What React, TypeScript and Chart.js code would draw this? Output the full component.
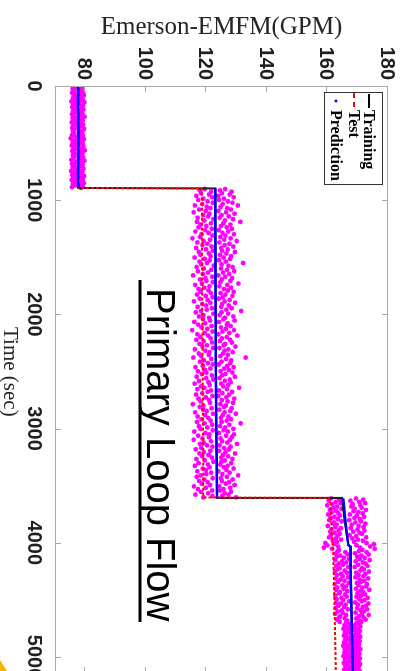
import React, { useEffect, useRef } from "react";
import { Chart, registerables } from "chart.js";
Chart.register(...registerables);

// ---- axis ticks & labels ----
const timeTicks = [0, 1000, 2000, 3000, 4000, 5000];
const flowTicks = [80, 100, 120, 140, 160, 180];
const timeMin = 0;
const timeMax = 5140;
const flowMin = 70;
const flowMax = 180;
const xTitle = "Time (sec)";
const yTitle = "Emerson-EMFM(GPM)";
const annotationText = "Primary Loop Flow";
const legendLabels = ["Training", "Test", "Prediction"];

// ---- Training (black solid) ----
const trainTime = [0, 893, 897, 1500, 2200, 2900, 3603, 3607, 3800, 4020, 4035, 4300, 4700, 5140];
const trainFlow = [77.7, 77.7, 123.0, 123.0, 123.1, 123.3, 123.5, 164.8, 165.6, 166.9, 167.6, 167.8, 168.0, 168.4];

// ---- Test (red dashed) ----
const testTime = [0, 893, 897, 1500, 2200, 2900, 3603, 3607, 3626, 3889, 4064, 4501, 5052, 5140];
const testFlow = [77.6, 77.6, 118.5, 118.6, 118.7, 118.9, 119.0, 160.5, 160.9, 161.4, 161.9, 162.3, 162.7, 162.8];

// ---- Prediction (blue) ; null = gap ----
const predTime = [0, 150, 300, 450, 600, 750, 893, 895, 897, 1200, 1500, 1800, 2100, 2400, 2700, 3000, 3300, 3603, 3605, 3611, 3772, 3915, 4020, 4035, 4265, 4702, 5052, 5140];
const predFlow = [77.7, 77.6, 77.7, 77.8, 77.7, 77.6, 77.7, null, 122.9, 122.9, 123.0, 123.0, 123.1, 123.1, 123.2, 123.3, 123.4, 123.5, null, 165.2, 165.8, 166.4, 166.9, 167.7, 167.6, 168.0, 168.3, 168.4];

// ---- Prediction samples (magenta scatter), regular sampling per segment ----
const seg1Start = 3;
const seg1Step = 7;
const seg1Flow = [
  76.1, 79.0, 77.2, 75.8, 78.6, 77.9, 76.4, 79.3, 75.6, 78.1,
  76.9, 79.5, 76.2, 78.8, 77.4, 75.9, 79.1, 76.6, 78.3, 75.4,
  79.7, 76.8, 78.0, 76.0, 79.2, 77.0, 75.7, 78.9, 76.3, 79.4,
  77.6, 75.9, 78.5, 76.7, 79.0, 75.6, 78.2, 76.1, 79.8, 77.3,
  75.8, 78.7, 76.5, 79.1, 77.1, 75.5, 78.4, 76.9, 79.3, 76.0,
  78.6, 77.5, 75.7, 79.6, 76.4, 78.1, 75.9, 79.0, 77.8, 76.2,
  78.9, 75.6, 79.2, 76.8, 78.3, 75.2, 79.5, 77.0, 76.3, 78.7,
  75.8, 79.1, 76.6, 78.0, 75.5, 79.4, 77.2, 76.0, 78.8, 76.7,
  79.9, 75.7, 78.4, 76.2, 79.0, 77.4, 75.9, 78.6, 76.5, 79.3,
  76.1, 78.2, 75.4, 79.7, 77.1, 76.8, 78.5, 75.6, 79.1, 76.3,
  78.9, 77.6, 75.8, 79.4, 76.9, 78.1, 75.3, 79.0, 76.4, 78.7,
  77.3, 75.7, 79.6, 76.0, 78.3, 76.6, 79.2, 75.5, 78.8, 77.0,
  76.2, 79.5, 75.9, 78.4, 76.7, 79.1, 75.6, 78.6,
];

const seg2Start = 902;
const seg2Step = 12;
const seg2Low = [
  119.4, 117.8, 121.6, 118.2, 120.9, 116.7, 121.9, 119.0, 117.3, 120.4,
  122.1, 118.6, 116.2, 120.1, 121.3, 117.6, 119.8, 115.8, 121.0, 118.9,
  120.6, 117.1, 122.3, 119.3, 116.9, 121.5, 118.1, 120.0, 117.4, 121.8,
  119.6, 116.4, 120.7, 118.4, 122.0, 117.9, 115.4, 121.2, 119.1, 117.0,
  120.3, 118.7, 121.7, 116.6, 119.9, 122.2, 117.5, 120.8, 118.0, 121.4,
  116.1, 119.5, 121.1, 117.7, 120.2, 118.3, 122.4, 116.8, 119.2, 121.6,
  117.2, 120.5, 118.8, 115.6, 121.9, 119.7, 117.9, 120.0, 122.1, 118.5,
  116.3, 121.0, 119.3, 117.4, 120.7, 118.1, 121.5, 116.9, 119.8, 122.0,
  117.8, 120.4, 115.9, 121.3, 118.6, 119.9, 117.1, 121.8, 120.1, 118.2,
  116.5, 122.3, 119.0, 117.6, 120.9, 118.9, 121.2, 116.0, 119.6, 117.3,
  121.7, 118.4, 120.3, 115.3, 122.0, 119.4, 117.0, 120.6, 118.0, 121.4,
  116.7, 119.1, 121.9, 117.7, 120.2, 118.7, 122.2, 116.2, 119.7, 121.0,
  117.5, 120.8, 118.3, 115.7, 121.6, 119.2, 117.9, 120.5, 122.1, 118.8,
  116.4, 121.3, 119.5, 117.2, 120.0, 118.5, 121.8, 116.8, 119.9, 122.3,
  117.6, 120.7, 116.1, 121.1, 118.2, 119.3, 117.0, 121.5, 120.4, 118.6,
  116.6, 122.0, 119.8, 117.4, 120.9, 118.1, 121.2, 115.5, 119.0, 117.8,
  121.7, 118.9, 120.1, 116.3, 122.2, 119.6, 117.1, 120.6, 118.4, 121.4,
  116.9, 119.4, 121.9, 117.5, 120.3, 118.0, 122.1, 116.0, 119.7, 121.0,
  117.3, 120.8, 118.7, 115.8, 121.5, 119.1, 117.9, 120.2, 122.0, 118.3,
  116.5, 121.3, 119.2, 117.7, 120.7, 118.6, 121.8, 116.7, 119.5, 122.3,
  117.4, 120.5, 116.2, 121.1, 118.8, 119.9, 117.0, 121.6, 120.0, 118.1,
  116.8, 122.1, 119.3, 117.6, 120.4, 118.5, 121.2, 115.9, 119.8, 117.2,
  121.9, 118.2, 120.6, 116.4, 122.0, 119.0,
];
const seg2High = [
  126.2, 124.5, 128.3, 125.1, 127.7, 123.9, 129.0, 125.8, 124.2, 127.1,
  128.6, 125.4, 130.4, 124.7, 126.9, 128.1, 124.0, 126.5, 129.3, 125.0,
  127.4, 124.4, 128.8, 126.1, 131.2, 125.6, 127.9, 124.8, 126.7, 128.4,
  124.1, 127.2, 125.3, 129.1, 126.3, 124.6, 128.0, 125.9, 130.0, 124.3,
  127.6, 126.0, 128.9, 124.9, 127.0, 125.2, 129.4, 126.6, 124.5, 128.2,
  125.7, 127.8, 124.2, 126.4, 132.1, 125.0, 127.3, 128.7, 124.8, 126.8,
  129.2, 125.5, 127.5, 124.0, 126.2, 128.5, 125.1, 127.9, 124.6, 130.6,
  126.9, 124.3, 128.1, 125.8, 127.1, 129.0, 124.7, 126.3, 128.6, 125.4,
  124.1, 127.7, 126.0, 129.5, 125.2, 127.4, 124.9, 128.3, 126.6, 131.5,
  125.0, 127.2, 124.4, 128.9, 126.1, 125.6, 129.3, 124.2, 127.0, 126.8,
  128.0, 124.8, 126.4, 129.1, 125.3, 127.6, 124.0, 130.2, 126.7, 125.1,
  127.8, 124.5, 128.4, 126.2, 125.7, 129.6, 124.3, 127.3, 126.0, 128.7,
  125.5, 127.1, 124.6, 133.0, 126.5, 128.2, 125.0, 127.9, 124.1, 126.9,
  129.0, 125.9, 127.4, 124.7, 128.6, 126.3, 125.2, 129.4, 124.4, 127.7,
  126.1, 128.0, 124.9, 127.2, 125.6, 130.8, 126.8, 124.2, 128.5, 125.3,
  127.5, 124.0, 126.6, 129.2, 125.1, 127.0, 128.8, 124.6, 126.4, 125.8,
  128.3, 124.3, 127.9, 126.0, 129.7, 125.4, 127.3, 124.8, 128.1, 126.7,
  125.0, 131.3, 127.6, 124.5, 126.2, 128.9, 125.7, 127.1, 124.1, 129.1,
  126.5, 128.4, 124.7, 127.8, 125.2, 126.9, 130.1, 124.4, 128.0, 125.9,
  127.4, 124.2, 126.3, 129.5, 125.5, 127.2, 124.9, 128.6, 126.1, 125.0,
  128.2, 124.6, 127.0, 125.8, 129.0, 126.6, 124.0, 127.7, 125.3, 130.5,
  126.8, 124.8, 128.7, 125.1, 127.5, 126.4, 129.3, 124.3, 127.9, 125.6,
  124.5, 128.1, 126.0, 127.3, 125.2, 129.8,
];

const seg3Start = 3612;
const seg3Step = 10;
const seg3Low = [
  161.2, 163.9, 160.4, 162.7, 164.3, 161.6, 159.9, 163.2, 162.0, 164.6,
  160.8, 162.9, 161.4, 163.6, 160.2, 164.1, 162.3, 161.0, 163.4, 160.6,
  164.7, 162.1, 161.8, 163.0, 160.1, 162.6, 164.4, 161.3, 163.7, 160.9,
  162.4, 164.0, 161.1, 163.3, 160.5, 162.8, 164.5, 161.7, 163.1,
  159.3, 162.2, 160.0, 163.5, 158.8, 161.5, 163.8,
  163.4, 165.9, 162.8, 166.6, 164.2, 163.0, 165.4, 167.1, 162.6, 164.8,
  166.2, 163.7, 165.1, 162.9, 166.9, 164.0, 163.3, 165.7, 162.5, 166.4,
  164.5, 163.1, 165.0, 166.8, 162.7, 164.3, 165.6, 163.5, 167.0, 162.4,
  164.9, 166.1, 163.2, 165.3, 162.8, 166.5, 164.1, 163.8, 165.8, 162.6,
  166.3, 164.6, 163.0, 165.2, 167.2, 162.9, 164.4, 166.0, 163.6, 165.5,
  162.7, 166.7, 164.7, 163.4, 165.0, 162.5, 166.2, 164.2, 163.9, 165.7,
  163.1, 166.6, 164.0,
  166.1, 167.4, 165.6, 167.9, 166.5, 165.3, 167.1, 166.8, 165.8, 167.6,
  166.2, 165.4, 167.8, 166.6, 165.9, 167.3, 166.0, 165.5, 167.7, 166.4,
  165.2, 167.0, 166.9, 165.7, 167.5, 166.3, 165.6, 167.9, 166.7, 165.3,
  167.2, 166.1, 165.8, 167.6, 166.5, 165.4, 167.0, 166.2, 165.9, 167.8,
  166.6, 165.5, 167.3, 166.0,
];
const seg3High = [
  169.4, 171.8, 167.6, 170.5, 172.4, 168.3, 170.9, 167.9, 171.3, 169.0,
  172.7, 168.6, 170.2, 171.6, 167.4, 169.7, 172.1, 168.9, 170.7, 167.2,
  171.0, 169.2, 172.5, 168.0, 170.3, 171.9, 167.7, 169.9, 172.2, 168.5,
  170.6, 171.4, 167.3, 169.5, 172.8, 168.2, 170.0, 171.7, 168.8,
  172.9, 175.3, 169.6, 174.1, 170.8, 175.6, 171.5,
  170.4, 172.9, 169.1, 173.6, 171.2, 169.8, 172.3, 170.7, 173.9, 169.3,
  171.7, 172.6, 170.1, 173.2, 169.0, 171.4, 172.0, 170.9, 173.7, 169.5,
  172.5, 170.3, 171.9, 169.2, 173.4, 170.6, 172.1, 171.0, 169.7, 173.0,
  170.2, 172.8, 171.5, 169.4, 173.8, 170.8, 171.8, 169.9, 172.4, 171.1,
  169.6, 173.3, 170.5, 172.2, 171.3, 169.1, 173.5, 170.0, 172.7, 171.6,
  169.8, 173.1, 170.9, 172.0, 169.3, 171.4, 173.6, 170.4, 171.9, 169.5,
  172.6, 170.7, 171.2,
  169.6, 170.5, 168.9, 170.9, 169.2, 170.1, 168.8, 170.7, 169.9, 169.4,
  170.3, 168.7, 170.8, 169.7, 170.0, 169.1, 170.6, 169.5, 168.9, 170.4,
  169.8, 170.2, 169.0, 170.9, 169.3, 170.1, 168.8, 170.5, 169.6, 170.0,
  169.2, 170.7, 169.9, 168.7, 170.3, 169.4, 170.8, 169.1, 170.4, 169.7,
  170.0, 168.9, 170.6, 169.5,
];

// ---- layout (unrotated canvas; the whole figure is turned 90° clockwise) ----
const CW = 690;
const CH = 409;

const pairs = (t: number[], v: (number | null)[]) => t.map((x, i) => ({ x, y: v[i] }));
const sampled = (start: number, step: number, v: number[]) => v.map((y, i) => ({ x: start + i * step, y }));

const TICK_FONT = 'bold 20px "Liberation Sans", Arial, sans-serif';
const SERIF = '"Liberation Serif", "Times New Roman", serif';

const framePlugin = {
  id: "frame",
  afterDraw(chart: any) {
    const { ctx, chartArea: a, scales } = chart;
    const xs = scales.x;
    const ys = scales.y;
    ctx.save();
    // box
    ctx.strokeStyle = "#a8a8a8";
    ctx.lineWidth = 1;
    ctx.strokeRect(a.left + 0.5, a.top + 0.5, a.right - a.left - 1, a.bottom - a.top - 1);
    // inward ticks
    ctx.beginPath();
    timeTicks.forEach((t) => {
      const px = Math.round(xs.getPixelForValue(t)) + 0.5;
      ctx.moveTo(px, a.bottom);
      ctx.lineTo(px, a.bottom - 6);
      ctx.moveTo(px, a.top);
      ctx.lineTo(px, a.top + 6);
    });
    flowTicks.forEach((f) => {
      const py = Math.round(ys.getPixelForValue(f)) + 0.5;
      ctx.moveTo(a.left, py);
      ctx.lineTo(a.left + 6, py);
      ctx.moveTo(a.right, py);
      ctx.lineTo(a.right - 6, py);
    });
    ctx.stroke();

    // tick labels
    ctx.fillStyle = "#1f1f1f";
    ctx.font = TICK_FONT;
    ctx.textBaseline = "alphabetic";
    ctx.textAlign = "center";
    timeTicks.forEach((t) => ctx.fillText(String(t), xs.getPixelForValue(t), 381));
    ctx.textAlign = "right";
    flowTicks.forEach((f) => ctx.fillText(String(f), a.left - 6, ys.getPixelForValue(f) + 7));

    // axis titles
    ctx.fillStyle = "#262626";
    ctx.font = "21px " + SERIF;
    ctx.textAlign = "left";
    ctx.fillText(xTitle, 327, 405);
    ctx.save();
    ctx.translate(33.5, (a.top + a.bottom) / 2);
    ctx.rotate(-Math.PI / 2);
    ctx.textAlign = "center";
    ctx.font = "25px " + SERIF;
    ctx.fillText(yTitle, 0, 0);
    ctx.restore();

    // annotation
    ctx.fillStyle = "#000";
    ctx.font = '40px "Liberation Sans", Arial, sans-serif';
    ctx.textAlign = "left";
    ctx.fillText(annotationText, 288, 262);
    ctx.fillRect(280, 267.5, 342, 3);

    // legend
    const lx = 92, ly = 26, lw = 92, lh = 58;
    ctx.fillStyle = "#fff";
    ctx.fillRect(lx, ly, lw, lh);
    ctx.strokeStyle = "#333";
    ctx.lineWidth = 1;
    ctx.strokeRect(lx + 0.5, ly + 0.5, lw, lh);
    const rows = [40, 55, 73];
    ctx.strokeStyle = "#000";
    ctx.lineWidth = 2;
    ctx.beginPath();
    ctx.moveTo(94, rows[0]);
    ctx.lineTo(108, rows[0]);
    ctx.stroke();
    ctx.strokeStyle = "#ff0000";
    ctx.setLineDash([5, 4]);
    ctx.beginPath();
    ctx.moveTo(93, rows[1]);
    ctx.lineTo(108, rows[1]);
    ctx.stroke();
    ctx.setLineDash([]);
    ctx.fillStyle = "#0000ff";
    ctx.beginPath();
    ctx.arc(101, rows[2], 1.5, 0, Math.PI * 2);
    ctx.fill();
    ctx.fillStyle = "#000";
    ctx.font = "bold 16px " + SERIF;
    ctx.textAlign = "left";
    legendLabels.forEach((l, i) => ctx.fillText(l, 110, rows[i] + 5));
    ctx.restore();
  },
};

export default function App() {
  const ref = useRef<HTMLCanvasElement>(null);
  useEffect(() => {
    const samples = [
      ...sampled(seg1Start, seg1Step, seg1Flow),
      ...sampled(seg2Start, seg2Step, seg2Low),
      ...sampled(seg2Start, seg2Step, seg2High),
      ...sampled(seg3Start, seg3Step, seg3Low),
      ...sampled(seg3Start, seg3Step, seg3High),
    ];
    const chart = new Chart(ref.current as HTMLCanvasElement, {
      type: "scatter",
      data: {
        datasets: [
          {
            label: legendLabels[2],
            data: pairs(predTime, predFlow) as any,
            showLine: true,
            spanGaps: false,
            borderColor: "#0000ff",
            borderWidth: 2.5,
            pointRadius: 0,
          },
          {
            label: legendLabels[1],
            data: pairs(testTime, testFlow) as any,
            showLine: true,
            borderColor: "#ff0000",
            borderWidth: 2,
            borderDash: [3, 2],
            pointRadius: 0,
          },
          {
            label: legendLabels[0],
            data: pairs(trainTime, trainFlow) as any,
            showLine: true,
            borderColor: "#1a1a1a",
            borderWidth: 2,
            pointRadius: 0,
          },
          {
            label: "samples",
            data: samples,
            showLine: false,
            backgroundColor: "#ff00ff",
            borderWidth: 0,
            pointRadius: 2.4,
          },
        ],
      },
      options: {
        responsive: false,
        animation: false,
        devicePixelRatio: 1,
        layout: { padding: { left: 86, top: 21, right: CW - 673, bottom: CH - 354 } },
        plugins: { legend: { display: false }, tooltip: { enabled: false } },
        scales: {
          x: { type: "linear", min: timeMin, max: timeMax, display: false },
          y: { type: "linear", min: flowMin, max: flowMax, display: false },
        },
      },
      plugins: [framePlugin],
    });
    return () => chart.destroy();
  }, []);

  return (
    <div style={{ position: "fixed", left: 0, top: 0, width: 409, height: 671, overflow: "hidden", background: "#fff" }}>
      <div
        style={{
          position: "absolute",
          left: 0,
          top: 0,
          width: CW,
          height: CH,
          transformOrigin: "0 0",
          transform: "translate(409px, 0) rotate(90deg)",
        }}
      >
        <canvas ref={ref} width={CW} height={CH} style={{ display: "block", width: CW, height: CH }} />
      </div>
      <div
        style={{
          position: "absolute",
          left: 0,
          top: 660,
          width: 7,
          height: 11,
          background: "#f5b400",
          clipPath: "polygon(0 0, 100% 100%, 0 100%)",
        }}
      />
    </div>
  );
}
